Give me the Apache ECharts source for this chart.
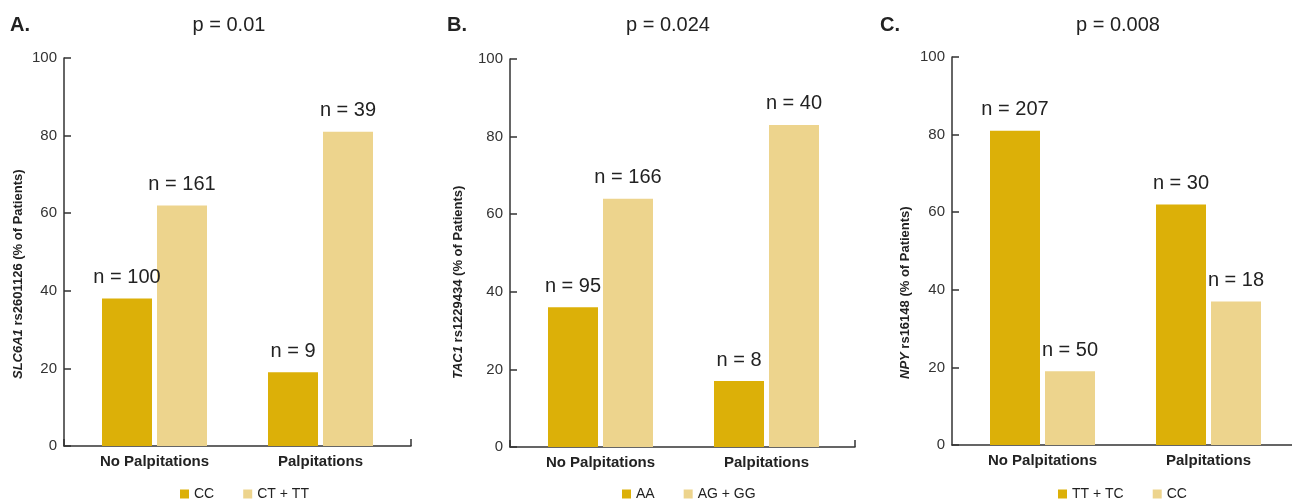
<!DOCTYPE html>
<html>
<head>
<meta charset="utf-8">
<script src="https://cdn.jsdelivr.net/npm/echarts@6/dist/echarts.min.js"></script>
<style>html,body{margin:0;padding:0;background:#fff;}#chart{width:1292px;height:500px;}</style>
</head>
<body>
<div id="chart"></div>
<script>
// ---- data ----
const categories = ['No Palpitations', 'Palpitations'];
const panelLetters = ['A.', 'B.', 'C.'];
const pValues = ['p = 0.01', 'p = 0.024', 'p = 0.008'];
const genes = ['SLC6A1', 'TAC1', 'NPY'];
const snps = ['rs2601126', 'rs1229434', 'rs16148'];
const yTickMin = 0, yTickMax = 100, yTickStep = 20;

const groupsA = ['CC', 'CT + TT'];
const pctA1 = [38, 19];
const pctA2 = [62, 81];
const nA1 = [100, 9];
const nA2 = [161, 39];

const groupsB = ['AA', 'AG + GG'];
const pctB1 = [36, 17];
const pctB2 = [64, 83];
const nB1 = [95, 8];
const nB2 = [166, 40];

const groupsC = ['TT + TC', 'CC'];
const pctC1 = [81, 62];
const pctC2 = [19, 37];
const nC1 = [207, 30];
const nC2 = [50, 18];

// ---- style / layout ----
const DARK = '#DCB008';
const LIGHT = '#EDD48D';
const AX = '#333333';
const TXT = '#222222';
const SANS = '"Liberation Sans", Arial, sans-serif';

const panels = [
  {axisL: 64, axisR: 411, top: 58, groups: groupsA, p1: pctA1, p2: pctA2, n1: nA1, n2: nA2,
   letterX: 10, pX: 229, nameX: 18, legendL: 180, endTick: true},
  {axisL: 510, axisR: 855, top: 59, groups: groupsB, p1: pctB1, p2: pctB2, n1: nB1, n2: nB2,
   letterX: 447, pX: 668, nameX: 458, legendL: 622, endTick: true},
  {axisL: 952, axisR: 1292, top: 57, groups: groupsC, p1: pctC1, p2: pctC2, n1: nC1, n2: nC2,
   letterX: 880, pX: 1118, nameX: 905, legendL: 1058, endTick: false}
];
const PLOT_H = 388;

const grid = [], xAxis = [], yAxis = [], series = [], legend = [], graphic = [];

panels.forEach((p, i) => {
  const dIdx = 2 * i, bIdx = 2 * i + 1;
  grid.push({left: p.axisL, width: p.axisR - p.axisL, top: p.top, height: PLOT_H, containLabel: false});
  grid.push({left: p.axisL + 7.5, width: 332, top: p.top, height: PLOT_H, containLabel: false});

  // decor axes (lines, ticks, y labels)
  xAxis.push({type: 'value', gridIndex: dIdx, min: 0, max: 1, interval: 1,
    axisLine: {show: true, lineStyle: {color: AX, width: 1.5}},
    axisTick: {show: p.endTick, inside: true, length: 7, lineStyle: {color: AX, width: 1.5}},
    axisLabel: {show: false}, splitLine: {show: false}});
  yAxis.push({type: 'value', gridIndex: dIdx, min: yTickMin, max: yTickMax, interval: yTickStep,
    axisLine: {show: true, lineStyle: {color: AX, width: 1.5}},
    axisTick: {show: true, inside: true, length: 7, lineStyle: {color: AX, width: 1.5}},
    axisLabel: {color: AX, fontSize: 15, fontFamily: SANS, margin: 7},
    splitLine: {show: false}});

  // bar axes
  xAxis.push({type: 'category', gridIndex: bIdx, data: categories,
    axisLine: {show: false}, axisTick: {show: false},
    axisLabel: {color: TXT, fontSize: 15, fontWeight: 'bold', fontFamily: SANS, margin: 8}});
  yAxis.push({type: 'value', gridIndex: bIdx, min: yTickMin, max: yTickMax, show: false});

  const cols = [DARK, LIGHT];
  const vals = [p.p1, p.p2];
  const ns = [p.n1, p.n2];
  [0, 1].forEach(k => {
    series.push({
      type: 'bar', name: p.groups[k], xAxisIndex: bIdx, yAxisIndex: bIdx,
      data: vals[k], barWidth: 50, barGap: '10%',
      itemStyle: {color: cols[k]},
      label: {show: true, position: 'top', distance: 11, color: TXT, fontSize: 20, fontFamily: SANS,
        formatter: (q) => 'n = ' + ns[k][q.dataIndex]},
      emphasis: {disabled: true}
    });
  });

  legend.push({
    data: [{name: p.groups[0], itemStyle: {color: DARK}}, {name: p.groups[1], itemStyle: {color: LIGHT}}],
    left: p.legendL - 5, top: 482, itemWidth: 9, itemHeight: 9, itemGap: 29, icon: 'rect',
    selectedMode: false,
    textStyle: {color: TXT, fontSize: 14, fontFamily: SANS}
  });

  graphic.push({type: 'text', x: p.letterX, y: 25,
    style: {text: panelLetters[i], fill: TXT, font: 'bold 20px ' + SANS, align: 'left', verticalAlign: 'middle'}});
  graphic.push({type: 'text', x: p.pX, y: 25,
    style: {text: pValues[i], fill: TXT, font: '20px ' + SANS, align: 'center', verticalAlign: 'middle'}});
  graphic.push({type: 'text', x: p.nameX, y: 379, rotation: Math.PI / 2,
    style: {text: '{i|' + genes[i] + '} ' + snps[i] + ' (% of Patients)', fill: TXT,
      font: 'bold 13px ' + SANS, align: 'left', verticalAlign: 'middle',
      rich: {i: {fontStyle: 'italic', fontWeight: 'bold', fontSize: 13, fontFamily: SANS, fill: TXT}}}});
});

const chart = echarts.init(document.getElementById('chart'), null, {renderer: 'canvas'});
chart.setOption({animation: false, backgroundColor: '#fff', grid, xAxis, yAxis, series, legend, graphic});
</script>
</body>
</html>
